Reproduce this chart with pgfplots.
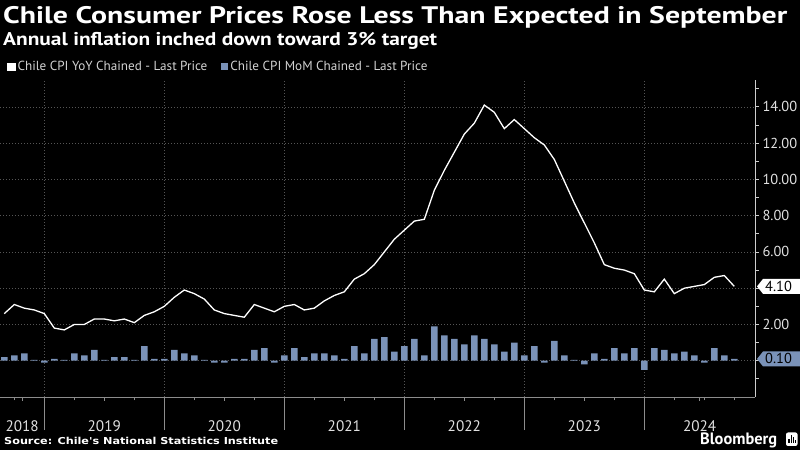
\documentclass[border=0pt]{standalone}
\usepackage{fontspec}
\setmainfont{PT Sans}
\newfontfamily\srcfont{DejaVu Sans}
\usepackage{graphicx}
\usepackage{pgfplots}
\pgfplotsset{compat=1.18}
\usepackage{pgfplotstable}
\usetikzlibrary{backgrounds}
\definecolor{barc}{RGB}{122,146,184}
\definecolor{gridc}{RGB}{85,85,85}
\definecolor{tickc}{RGB}{225,225,225}
\definecolor{legc}{RGB}{210,210,210}

\pgfplotstableread{
i yoy mom
0 2.6 0.2
1 3.1 0.3
2 2.9 0.4
3 2.8 0.05
4 2.6 -0.1
5 1.8 0.1
6 1.7 0.05
7 2.0 0.4
8 2.0 0.3
9 2.3 0.6
10 2.3 0.05
11 2.2 0.2
12 2.3 0.2
13 2.1 0.05
14 2.5 0.8
15 2.7 0.1
16 3.0 0.1
17 3.5 0.6
18 3.9 0.4
19 3.7 0.3
20 3.4 0.05
21 2.8 -0.1
22 2.6 -0.1
23 2.5 0.1
24 2.4 0.1
25 3.1 0.6
26 2.9 0.7
27 2.7 -0.1
28 3.0 0.3
29 3.1 0.7
30 2.8 0.2
31 2.9 0.4
32 3.3 0.4
33 3.6 0.3
34 3.8 0.1
35 4.5 0.8
36 4.8 0.4
37 5.3 1.2
38 6.0 1.3
39 6.7 0.5
40 7.2 0.8
41 7.7 1.2
42 7.8 0.3
43 9.4 1.9
44 10.5 1.4
45 11.5 1.2
46 12.5 0.9
47 13.1 1.4
48 14.1 1.2
49 13.7 0.9
50 12.8 0.5
51 13.3 1.0
52 12.8 0.3
53 12.3 0.8
54 11.9 -0.1
55 11.1 1.1
56 9.9 0.3
57 8.7 0.05
58 7.6 -0.2
59 6.5 0.4
60 5.3 0.1
61 5.1 0.7
62 5.0 0.4
63 4.8 0.7
64 3.9 -0.5
65 3.8 0.7
66 4.5 0.6
67 3.7 0.4
68 4.0 0.5
69 4.1 0.3
70 4.2 -0.1
71 4.6 0.7
72 4.7 0.3
73 4.1 0.1
}\cpidata

\begin{document}
\begin{tikzpicture}[x=1bp,y=1bp]
\begin{axis}[
  name=ax,
  scale only axis, width=755bp, height=317.3bp,
  xmin=-0.43, xmax=75.07, ymin=-2, ymax=15.5,
  clip=false,
  axis x line*=bottom, axis y line*=right,
  x axis line style={draw={rgb,255:red,140;green,140;blue,140}, line width=0.8bp},
  y axis line style={draw={rgb,255:red,205;green,205;blue,205}, line width=0.8bp},
  xtick={1.785,10,22,34,46,58,69.535},
  xticklabels={2018,2019,2020,2021,2022,2023,2024},
  minor xtick={1,4,...,73},
  extra x ticks={4,16,28,40,52,64},
  extra x tick labels={},
  extra x tick style={xmajorgrids=true, major tick length=33bp,
     tick style={draw={rgb,255:red,110;green,110;blue,110}, line width=0.8bp}},
  xmajorgrids=false,
  tick align=outside,
  x tick style={draw={rgb,255:red,140;green,140;blue,140}, line width=0.8bp},
  y tick style={draw={rgb,255:red,205;green,205;blue,205}, line width=0.8bp},
  major tick length=4bp, minor tick length=3.5bp,
  ytick={0,2,...,14}, minor ytick={-1,1,...,15},
  yticklabels={{},2.00,{},6.00,8.00,10.00,12.00,14.00},
  ymajorgrids=true,
  major grid style={draw=gridc, line width=0.7bp, dash pattern=on 1bp off 2bp},
  xticklabel style={anchor=base, yshift=-31bp, text=tickc, font=\fontsize{15.3}{16}\selectfont},
  yticklabel style={anchor=west, text=tickc, font=\fontsize{14.5}{15}\selectfont},
  legend style={at={(0.0097,1.04)}, anchor=west, draw=none, fill=none, text=legc,
     font=\fontsize{13.2}{14}\selectfont, inner sep=0pt, outer sep=0pt,
     /tikz/every even column/.append style={column sep=12bp}},
  legend columns=2,
  legend cell align=left,
]
\addplot[white, line width=1.3bp, mark=none,
   legend image code/.code={\fill[white] (0bp,-3.4bp) rectangle (7bp,3.6bp);}]
   table[x=i, y=yoy] {\cpidata};
\addlegendentry{Chile CPI YoY Chained - Last Price}
\addplot[ybar, bar width=6.6bp, fill=barc, draw=none,
   legend image code/.code={\fill[barc] (0bp,-3.4bp) rectangle (7bp,3.6bp);}]
   table[x=i, y=mom] {\cpidata};
\addlegendentry{Chile CPI MoM Chained - Last Price}
\coordinate (SW) at (rel axis cs:0,0);
\coordinate (lastyoy) at (axis cs:75.07,4.1);
\coordinate (lastmom) at (axis cs:75.07,0.1);
\end{axis}

% last value tags
\fill[white] ([xshift=2bp]lastyoy) -- ++(6bp,7.5bp) -- ++(37bp,0) -- ++(0,-15bp) -- ++(-37bp,0) -- cycle;
\node[anchor=west, inner sep=0, text=black, font=\fontsize{14.5}{15}\selectfont] at ([xshift=10bp]lastyoy) {4.10};
\fill[barc] ([xshift=2bp]lastmom) -- ++(6bp,7.5bp) -- ++(37bp,0) -- ++(0,-15bp) -- ++(-37bp,0) -- cycle;
\node[anchor=west, inner sep=0, text=black, font=\fontsize{14.5}{15}\selectfont] at ([xshift=10bp]lastmom) {0.10};

\begin{scope}[shift={(SW)}, yshift=-53bp]
% titles
\node[anchor=base west, inner sep=0, text=white] at (3,426)
  {\resizebox{784bp}{\height}{\fontsize{24}{26}\selectfont\bfseries Chile Consumer Prices Rose Less Than Expected in September}};
\node[anchor=base west, inner sep=0, text=white] at (3,404.7)
  {\resizebox{434bp}{\height}{\fontsize{18.5}{20}\selectfont\bfseries Annual inflation inched down toward 3\% target}};
% footer
\node[anchor=base west, inner sep=0, text=white] at (4,5.7)
  {\resizebox{274bp}{\height}{\srcfont\fontsize{9.6}{11}\selectfont\bfseries Source: Chile's National Statistics Institute}};
\node[anchor=base west, inner sep=0, text=white] at (700,5)
  {\resizebox{77bp}{\height}{\fontsize{16.5}{18}\selectfont\bfseries Bloomberg}};
\fill[white, rounded corners=2bp] (786,4) rectangle (797.5,17.5);
\fill[black] (788.2,6.5) rectangle (789.6,11);
\fill[black] (790.6,6.5) rectangle (792,15);
\fill[black] (793,6.5) rectangle (794.4,13);
\fill[black] (795.2,6.5) rectangle (796.2,9.5);
\end{scope}

\begin{scope}[on background layer]
\fill[black] ([yshift=-53bp]SW) rectangle ++(800,450);
\end{scope}
\pgfresetboundingbox
\path ([yshift=-53bp]SW) rectangle ++(800,450);
\end{tikzpicture}
\end{document}
